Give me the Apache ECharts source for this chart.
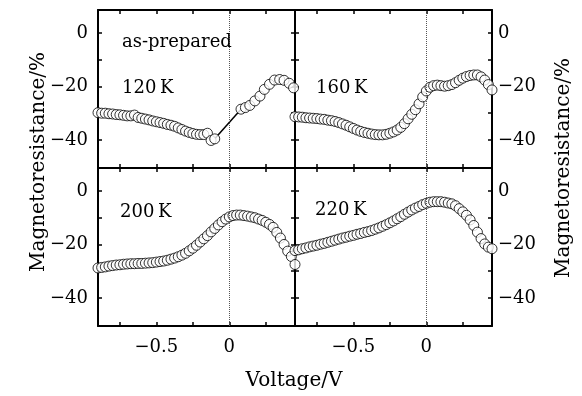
<!DOCTYPE html>
<html>
<head>
<meta charset="utf-8">
<script src="https://cdn.jsdelivr.net/npm/echarts@6/dist/echarts.min.js"></script>
<style>
html,body{margin:0;padding:0;background:#fff;}
#c{width:582px;height:396px;}
</style>
</head>
<body>
<div id="c"></div>
<script>
// Voltage grid (V)
var voltage = [-0.900,-0.875,-0.850,-0.825,-0.800,-0.775,-0.750,-0.725,-0.700,-0.675,
  -0.650,-0.625,-0.600,-0.575,-0.550,-0.525,-0.500,-0.475,-0.450,-0.425,
  -0.400,-0.375,-0.350,-0.325,-0.300,-0.275,-0.250,-0.225,-0.200,-0.175,
  -0.150,-0.125,-0.100,-0.075,-0.050,-0.025,0.000,0.025,0.050,0.075,
  0.100,0.125,0.150,0.175,0.200,0.225,0.250,0.275,0.300,0.325,
  0.350,0.375,0.400,0.425,0.450];

// 120 K (as-prepared): negative-bias branch and positive-bias branch
var volt120a = [-0.900,-0.875,-0.850,-0.825,-0.800,-0.775,-0.750,-0.725,-0.700,-0.675,
  -0.650,-0.625,-0.600,-0.575,-0.550,-0.525,-0.500,-0.475,-0.450,-0.425,
  -0.400,-0.375,-0.350,-0.325,-0.300,-0.275,-0.250,-0.225,-0.200,-0.175,
  -0.150,-0.125,-0.100];
var mr120a = [-29.8,-30.0,-30.0,-30.2,-30.3,-30.5,-30.6,-30.8,-31.0,-31.0,
  -30.7,-31.6,-31.9,-32.2,-32.5,-32.9,-33.2,-33.5,-33.8,-34.2,
  -34.5,-34.9,-35.5,-36.1,-36.7,-37.2,-37.6,-37.9,-38.0,-38.0,
  -37.5,-40.2,-39.6];
var volt120b = [0.080,0.110,0.140,0.175,0.210,0.240,0.275,0.310,0.345,0.375,0.410,0.440];
var mr120b = [-28.5,-27.9,-27.1,-25.4,-23.6,-21.1,-19.2,-17.6,-17.4,-17.7,-18.8,-20.5];

var mr160 = [-31.3,-31.4,-31.5,-31.7,-31.8,-31.9,-32.0,-32.2,-32.3,-32.6,
  -32.8,-33.1,-33.5,-34.0,-34.5,-35.1,-35.7,-36.3,-36.8,-37.2,
  -37.5,-37.8,-38.0,-38.1,-38.1,-37.9,-37.5,-37.0,-36.3,-35.3,
  -33.9,-32.1,-30.4,-28.7,-26.5,-23.9,-21.7,-20.3,-19.7,-19.5,
  -19.7,-19.9,-19.7,-19.3,-18.6,-17.7,-16.9,-16.3,-15.9,-15.7,
  -15.7,-16.4,-17.6,-19.3,-21.3];

var mr200 = [-28.8,-28.6,-28.4,-28.1,-27.9,-27.7,-27.6,-27.4,-27.3,-27.2,
  -27.2,-27.1,-27.1,-27.0,-26.9,-26.8,-26.6,-26.4,-26.2,-25.9,
  -25.5,-25.1,-24.6,-24.0,-23.3,-22.4,-21.4,-20.3,-19.1,-17.9,
  -16.7,-15.3,-14.0,-12.7,-11.5,-10.5,-9.7,-9.2,-9.0,-9.0,
  -9.2,-9.4,-9.7,-10.0,-10.5,-11.0,-11.7,-12.5,-13.6,-15.5,
  -17.6,-20.0,-22.5,-24.5,-27.5];

var mr220 = [-22.3,-22.0,-21.6,-21.3,-20.9,-20.6,-20.3,-19.9,-19.6,-19.2,
  -18.8,-18.4,-18.0,-17.6,-17.3,-16.9,-16.6,-16.2,-15.9,-15.5,
  -15.2,-14.8,-14.3,-13.8,-13.2,-12.6,-11.9,-11.2,-10.4,-9.6,
  -8.7,-7.9,-7.1,-6.4,-5.8,-5.1,-4.6,-4.2,-4.0,-4.0,
  -4.0,-4.2,-4.5,-4.8,-5.5,-6.6,-7.8,-9.1,-10.8,-12.9,
  -15.4,-17.8,-19.8,-21.0,-21.6];

// Axis ticks and labels
var xTicks = [-0.75,-0.5,-0.25,0,0.25];
var xLabels = [-0.5,0];
var yTicks = [-40,-30,-20,-10,0];
var yLabels = [-40,-20,0];
var panelLabels = ['120\u2009K','160\u2009K','200\u2009K','220\u2009K'];

var FONT = 'DejaVu Serif';
function fmt(v){ return (v < 0 ? '\u2212' : '') + Math.abs(v); }
function pair(xs, ys){ return xs.map(function(x,i){ return [x, ys[i]]; }); }

var grids = [
  {left:98, top:10, width:197, height:158},
  {left:295, top:10, width:197, height:158},
  {left:98, top:168, width:197, height:158},
  {left:295, top:168, width:197, height:158}
];

var xAxes = [], yAxes = [];
grids.forEach(function(g, i){
  ['bottom','top'].forEach(function(pos){
    var showLab = (pos === 'bottom' && i >= 2);
    xAxes.push({
      type:'value', gridIndex:i, position:pos, min:-0.9, max:0.45,
      axisLine:{show:true, onZero:false, lineStyle:{color:'#000', width:2}},
      axisTick:{show:true, inside:true, length:4, customValues:xTicks, lineStyle:{color:'#000', width:1.5}},
      axisLabel:{show:showLab, customValues:xLabels, formatter:fmt, margin:12, color:'#000', fontFamily:FONT, fontSize:18},
      splitLine:{show:false}
    });
  });
  ['left','right'].forEach(function(pos){
    var showLab = (pos === 'left' && (i === 0 || i === 2)) || (pos === 'right' && (i === 1 || i === 3));
    yAxes.push({
      type:'value', gridIndex:i, position:pos, min:-50.5, max:8.6,
      axisLine:{show:true, onZero:false, lineStyle:{color:'#000', width:2}},
      axisTick:{show:true, inside:true, length:4, customValues:yTicks, lineStyle:{color:'#000', width:1.5}},
      axisLabel:{show:showLab, customValues:yLabels, formatter:fmt, margin:(pos==='left'?10:6), color:'#000', fontFamily:FONT, fontSize:18},
      splitLine:{show:false}
    });
  });
});

var circleStyle = {color:'#fff', borderColor:'#000', borderWidth:1};
var zeroLine = {
  silent:true, symbol:['none','none'], label:{show:false},
  lineStyle:{type:'dotted', color:'#555', width:1},
  data:[{xAxis:0}]
};

function scatter(i, data){
  return {
    type:'scatter', xAxisIndex:2*i, yAxisIndex:2*i, data:data,
    symbol:'circle', symbolSize:10, itemStyle:circleStyle, z:3,
    markLine: zeroLine
  };
}

var series = [
  {type:'line', xAxisIndex:0, yAxisIndex:0, z:2, symbol:'none',
   data:[[volt120a[volt120a.length-1], mr120a[mr120a.length-1]],[volt120b[0], mr120b[0]]],
   lineStyle:{color:'#000', width:1.5}},
  scatter(0, pair(volt120a, mr120a).concat(pair(volt120b, mr120b))),
  scatter(1, pair(voltage, mr160)),
  scatter(2, pair(voltage, mr200)),
  scatter(3, pair(voltage, mr220))
];

var txtStyle = function(t, x, y, size){
  return {type:'text', x:x, y:y, silent:true, z:10,
    style:{text:t, font:(size||18)+'px "'+FONT+'"', fill:'#000', textAlign:'left', textVerticalAlign:'middle'}};
};

var graphic = [
  txtStyle('as-prepared', 122, 42),
  txtStyle(panelLabels[0], 122, 88),
  txtStyle(panelLabels[1], 316, 88),
  txtStyle(panelLabels[2], 120, 212),
  txtStyle(panelLabels[3], 315, 210),
  {type:'text', x:294, y:381, silent:true,
   style:{text:'Voltage/V', font:'20px "'+FONT+'"', fill:'#000', textAlign:'center', textVerticalAlign:'middle'}},
  {type:'text', x:39, y:162, rotation:Math.PI/2, silent:true,
   style:{text:'Magnetoresistance/%', font:'20px "'+FONT+'"', fill:'#000', textAlign:'center', textVerticalAlign:'middle'}},
  {type:'text', x:564, y:168, rotation:Math.PI/2, silent:true,
   style:{text:'Magnetoresistance/%', font:'20px "'+FONT+'"', fill:'#000', textAlign:'center', textVerticalAlign:'middle'}}
];

var chart = echarts.init(document.getElementById('c'), null, {renderer:'canvas'});
chart.setOption({
  animation:false,
  backgroundColor:'#fff',
  grid:grids,
  xAxis:xAxes,
  yAxis:yAxes,
  series:series,
  graphic:graphic
});
</script>
</body>
</html>
